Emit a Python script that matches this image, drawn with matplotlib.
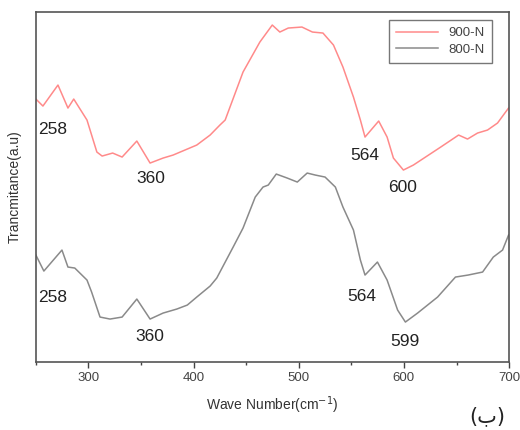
import matplotlib.pyplot as plt

# =========================
# DATA
# =========================
wn_900 = [250, 256.7, 271, 280.5, 286, 298.6, 308, 313, 323, 332, 346, 358.6, 371,
          380.5, 394, 403, 415.7, 425, 430, 447, 463, 474.8, 482, 490, 503, 513, 523,
          533, 542, 552, 558.6, 563, 576, 584, 590, 599.5, 609, 635, 652, 660.5, 670,
          679.5, 689, 699.5]
t_900 = [263, 256, 277, 254, 263, 242, 210, 206, 209, 205, 221, 199, 204,
         207, 213, 217, 227, 237, 242, 290, 320, 337, 330, 334, 335, 330, 329,
         317, 295, 265, 242, 225, 241, 225, 204, 192, 197, 215, 227, 223, 229,
         232, 239, 254]

wn_800 = [250, 257.6, 274.8, 280.5, 287, 298.6, 303, 311, 320.5, 332, 346, 358.6, 371,
          384, 394, 403, 415.7, 422, 437.6, 447, 458.6, 466, 471, 478.6, 489, 498.6,
          508, 515.7, 525, 534.8, 542, 552, 558.6, 563, 574.8, 584, 594, 601.4, 613,
          632, 649, 661, 674.8, 685, 693.8, 699.5]
t_800 = [107, 91, 112, 95, 94, 82, 70, 45, 43, 45, 63, 43, 49,
         53, 57, 65, 76, 84, 115, 134, 165, 175, 177, 188, 184, 180,
         189, 187, 185, 175, 155, 132, 102, 87, 100, 82, 52, 40, 49,
         65, 85, 87, 90, 105, 112, 127]

peak_labels = [("258", 266, 233), ("360", 359.5, 184), ("564", 563, 207), ("600", 598.6, 175),
               ("258", 266, 65), ("360", 358.6, 26), ("564", 559.5, 66), ("599", 601.4, 21)]

xticks = [300, 400, 500, 600, 700]

# =========================
# PLOT
# =========================
plt.rcParams['font.family'] = ['Liberation Sans', 'DejaVu Sans']

fig = plt.figure(figsize=(5.2, 4.3), dpi=100)
ax = fig.add_axes([0.069, 0.158, 0.910, 0.814])

ax.plot(wn_900, t_900, color='#ff8a8a', lw=1.1, label='900-N', solid_joinstyle='round')
ax.plot(wn_800, t_800, color='#8a8a8a', lw=1.1, label='800-N', solid_joinstyle='round')

for txt, x, y in peak_labels:
    ax.text(x, y, txt, fontsize=12.5, color='#222222', ha='center', va='center')

ax.set_xlim(250, 700)
ax.set_ylim(0, 350)
ax.set_xticks(xticks)
ax.set_xticks([250, 350, 450, 550, 650], minor=True)
ax.set_yticks([])
ax.tick_params(axis='x', direction='out', length=4, width=1, labelsize=9.5,
               colors='#444444', pad=3)
ax.tick_params(axis='x', which='minor', direction='out', length=2.5, width=1,
               colors='#444444')
for s in ax.spines.values():
    s.set_color('#555555')
    s.set_linewidth(1.2)

ax.set_xlabel("Wave Number(cm$^{-1}$)", fontsize=10, color='#333333', labelpad=8)
ax.set_ylabel("Trancmitance(a.u)", fontsize=10, color='#333333', labelpad=10)

leg = ax.legend(loc='upper right', fontsize=9.5, frameon=True, fancybox=False,
                edgecolor='#555555', handlelength=3.2, borderpad=0.5,
                labelspacing=0.35, bbox_to_anchor=(0.977, 0.995))
leg.get_frame().set_linewidth(1)
for t in leg.get_texts():
    t.set_color('#444444')

fig.text(0.937, 0.032, "(ب)", fontsize=15, color='#222222', ha='center', va='center',
         family=['DejaVu Sans'])

plt.savefig("out.png", dpi=100)
